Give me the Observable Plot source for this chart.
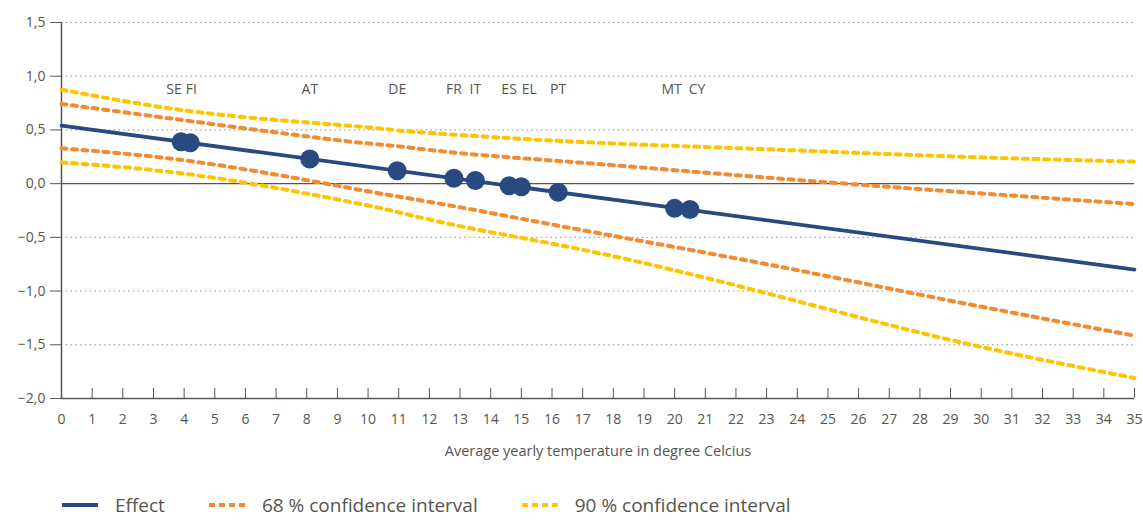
<!DOCTYPE html>
<html>
<head>
<meta charset="utf-8">
<script src="https://cdn.jsdelivr.net/npm/d3@7"></script>
<script src="https://cdn.jsdelivr.net/npm/@observablehq/plot@0.6"></script>
<style>
  body { margin: 0; background: #fff; font-family: "Open Sans", sans-serif; overflow: hidden; }
  #legend { display: flex; align-items: center; height: 26px; margin-top: 7px; margin-left: 62px; font-size: 19px; line-height: 1; color: #57554d; }
  .item { display: flex; align-items: center; margin-right: 44px; }
</style>
</head>
<body>
<div id="chart"></div>
<div id="legend"></div>
<script>
// Countries (avg yearly temperature, estimated effect)
const countries  = ["SE", "FI", "AT", "DE", "FR", "IT", "ES", "EL", "PT", "MT", "CY"];
const temps      = [3.9, 4.2, 8.1, 10.95, 12.8, 13.5, 14.6, 15.0, 16.2, 20.0, 20.5];
const effects    = [0.39, 0.38, 0.23, 0.12, 0.05, 0.03, -0.02, -0.03, -0.08, -0.23, -0.24];
const labelShift = [-7, 1, 0, 0, 0, 0, 0, 8, 0, -3, 7];

// Effect line (endpoints)
const effectX    = [0, 35];
const effectLine = [0.54, -0.80];

// Confidence bands, read at these temperatures
const bandX      = [0, 4.5, 9, 11, 13.3, 17.5, 23, 29, 35];
const ci68Upper  = [0.742, 0.571, 0.405, 0.347, 0.276, 0.183, 0.056, -0.071, -0.19];
const ci68Lower  = [0.329, 0.198, -0.02, -0.121, -0.236, -0.46, -0.75, -1.09, -1.415];
const ci90Upper  = [0.875, 0.664, 0.548, 0.495, 0.447, 0.38, 0.32, 0.254, 0.205];
const ci90Lower  = [0.198, 0.074, -0.147, -0.267, -0.413, -0.645, -1.02, -1.455, -1.809];

const xTicks = d3.range(0, 36);
const yTicks = [-2, -1.5, -1, -0.5, 0, 0.5, 1, 1.5];

const navy = "#284a80", orange = "#f28a30", yellow = "#fdc400", grey = "#57554d";

const series = (xs, vals) => xs.map((x, i) => ({x, y: vals[i]}));
const pts = countries.map((c, i) => ({c, x: temps[i], y: effects[i], dx: labelShift[i]}));
const fmt = d => d3.format(".1f")(d).replace(".", ",").replace("-", "\u2212");
const dash = {strokeWidth: 4, strokeDasharray: "5,5.6", curve: "natural"};

const chart = Plot.plot({
  width: 1143,
  height: 485,
  marginLeft: 61,
  marginRight: 9,
  marginTop: 22,
  marginBottom: 87,
  style: {fontFamily: "Open Sans, sans-serif", color: grey},
  x: {domain: [0, 35]},
  y: {domain: [-2, 1.5]},
  marks: [
    Plot.ruleY(yTicks.filter(d => d !== 0 && d !== -2), {stroke: "#777", strokeDasharray: "1.2,3.6", strokeWidth: 1}),
    Plot.ruleY([0], {stroke: grey, strokeWidth: 1.2}),
    Plot.ruleY([-2], {stroke: grey, strokeWidth: 1.5}),
    Plot.ruleX([0], {stroke: grey, strokeWidth: 1.5}),
    Plot.axisY({ticks: yTicks, tickFormat: fmt, tickSize: 11, tickPadding: 5, fontSize: 14, label: null, stroke: grey}),
    Plot.axisX({ticks: xTicks, tickSize: -10, tickFormat: () => "", label: null, stroke: grey}),
    Plot.axisX({ticks: xTicks, tickSize: 0, tickPadding: 16, fontSize: 14, label: null}),
    Plot.axisX({ticks: [], label: "Average yearly temperature in degree Celcius", labelAnchor: "center", labelArrow: "none", labelOffset: 57, fontSize: 14.5}),
    Plot.line(series(bandX, ci90Upper), {x: "x", y: "y", stroke: yellow, ...dash}),
    Plot.line(series(bandX, ci90Lower), {x: "x", y: "y", stroke: yellow, ...dash}),
    Plot.line(series(bandX, ci68Upper), {x: "x", y: "y", stroke: orange, ...dash}),
    Plot.line(series(bandX, ci68Lower), {x: "x", y: "y", stroke: orange, ...dash}),
    Plot.line(series(effectX, effectLine), {x: "x", y: "y", stroke: navy, strokeWidth: 3.8}),
    Plot.dot(pts, {x: "x", y: "y", r: 9.5, fill: navy}),
    Plot.text(pts, {x: "x", text: "c", frameAnchor: "top", dy: 62, fontSize: 14, fill: grey,
      render: (index, scales, values, dims, ctx, next) => {
        const g = next(index, scales, values, dims, ctx);
        d3.select(g).selectAll("text").each(function(_, j) {
          d3.select(this).attr("dx", pts[index[j]].dx);
        });
        return g;
      }})
  ]
});
document.getElementById("chart").append(chart);

const legendItems = [
  {label: "Effect", color: navy, dashed: false, w: 3.8},
  {label: "68 % confidence interval", color: orange, dashed: true, w: 4},
  {label: "90 % confidence interval", color: yellow, dashed: true, w: 4}
];
const leg = document.getElementById("legend");
legendItems.forEach(d => {
  const it = document.createElement("div");
  it.className = "item";
  const sw = document.createElementNS("http://www.w3.org/2000/svg", "svg");
  sw.setAttribute("width", 36); sw.setAttribute("height", 6);
  sw.style.marginRight = "17px";
  const ln = document.createElementNS("http://www.w3.org/2000/svg", "line");
  ln.setAttribute("x1", 0); ln.setAttribute("x2", 36); ln.setAttribute("y1", 3); ln.setAttribute("y2", 3);
  ln.setAttribute("stroke", d.color); ln.setAttribute("stroke-width", d.w);
  if (d.dashed) ln.setAttribute("stroke-dasharray", "6,4");
  sw.appendChild(ln);
  const tx = document.createElement("span");
  tx.textContent = d.label;
  it.appendChild(sw); it.appendChild(tx);
  leg.appendChild(it);
});
</script>
</body>
</html>
